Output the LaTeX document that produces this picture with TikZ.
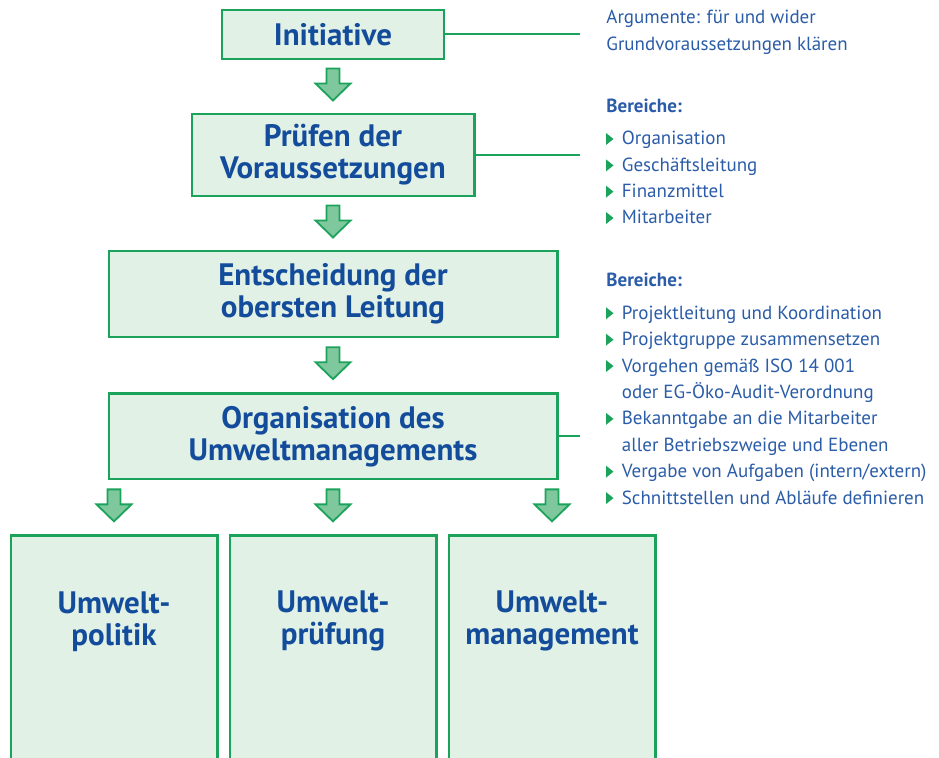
\documentclass[tikz,border=0pt]{standalone}
\usepackage{fontspec}
\setmainfont{PT Sans}
\usetikzlibrary{positioning, calc}

\definecolor{boxgreen}{HTML}{1BA35B}
\definecolor{boxfill}{HTML}{E1F1E6}
\definecolor{arrowfill}{HTML}{7FC79D}
\definecolor{titleblue}{HTML}{144C9C}
\definecolor{sideblue}{HTML}{2A5CA8}

\newcommand\titlefont{\fontsize{15.5}{16}\selectfont\bfseries}
\newcommand\sidefont{\fontsize{9.5}{12}\selectfont}

\tikzset{
	box/.style={draw=boxgreen, fill=boxfill, line width=1.2pt, align=center,
		text=titleblue, font=\titlefont, inner sep=0pt},
	wide/.style={box, minimum width=224.3pt, minimum height=42.9pt},
	tall/.style={box, minimum width=103.3pt, minimum height=130pt},
	title/.style={align=center, text=titleblue, font=\titlefont, inner sep=0pt},
	side/.style={anchor=base west, inner sep=0pt, text=sideblue, font=\sidefont},
	link/.style={draw=boxgreen, line width=1pt},
	bullet/.style={fill=boxgreen},
	blockarrow/.pic={
		\draw[draw=boxgreen, fill=arrowfill, line width=0.9pt, line join=miter]
			(-6.5,-18) -- (6.5,-18) -- (6.5,-3) -- (17.5,-3) -- (0,14)
			-- (-17.5,-3) -- (-6.5,-3) -- cycle;
	}
}

\begin{document}
\begin{tikzpicture}[x=0.5pt, y=-0.5pt, node distance=26.5pt and 5pt]
	\path[use as bounding box, clip] (0,0) rectangle (939,758);
	% main column
	\node[box, minimum width=110.8pt, minimum height=24.3pt] (init) at (333,34.5) {Initiative};
	\node[box, minimum width=141.3pt, minimum height=40.8pt, below=of init, text depth=4pt] (pruef) {Prüfen der\\Voraussetzungen};
	\node[wide, below=of pruef] (entsch) {Entscheidung der\\obersten Leitung};
	\node[wide, below=27pt of entsch] (orga) {Organisation des\\Umweltmanagements};
	% bottom row
	\node[tall, below=27pt of orga] (pruefung) {};
	\node[tall, left=of pruefung] (politik) {};
	\node[tall, right=of pruefung] (mgmt) {};
	\foreach \n/\t in {politik/{Umwelt-\\politik}, pruefung/{Umwelt-\\prüfung}, mgmt/{Umwelt-\\management}}
		\node[title] (\n-text) at ($(\n.north)+(0,87)$) {\t};

	% block arrows
	\path ($(init.south)!0.5!(pruef.north)$) pic {blockarrow};
	\path ($(pruef.south)!0.5!(entsch.north)$) pic {blockarrow};
	\path ($(entsch.south)!0.5!(orga.north)$) pic {blockarrow};
	\foreach \n in {politik,pruefung,mgmt}
		\path ($(orga.south -| \n.north)!0.5!(\n.north)$) pic {blockarrow};

	% side notes
	\coordinate (rail) at (580,0);
	\foreach \y/\t [count=\i] in {24/{Argumente: für und wider}, 51/{Grundvoraussetzungen klären}}
		\node[side] (arg\i) at (606,\y) {\t};
	\node[side, font=\sidefont\bfseries] (headA) at (606,112.7) {Bereiche:};
	\foreach \y/\t [count=\i] in {145/Organisation, 171.4/Geschäftsleitung, 197.7/Finanzmittel, 224/Mitarbeiter}
		\node[side] (itemA\i) at (621.5,\y) {\t};
	\node[side, font=\sidefont\bfseries] (headB) at (606,286.7) {Bereiche:};
	\foreach \t [count=\i] in {Projektleitung und Koordination, Projektgruppe zusammensetzen,
		Vorgehen gemäß ISO 14 001, oder EG-Öko-Audit-Verordnung, Bekanntgabe an die Mitarbeiter,
		aller Betriebszweige und Ebenen, {Vergabe von Aufgaben (intern/extern)}, Schnittstellen und Abläufe definieren}
		\node[side] (itemB\i) at (621.5,{319.3+26.4*(\i-1)}) {\t};
	\foreach \n in {itemA1,itemA2,itemA3,itemA4,itemB1,itemB2,itemB3,itemB5,itemB7,itemB8}
		\fill[bullet] ($(\n.base west)+(-15.5,0)$) -- ++(7.5,-6) -- ++(-7.5,-6) -- cycle;

	% connectors to the notes
	\draw[link] (init.east) -- (init.east -| rail);
	\draw[link] (pruef.east) -- (pruef.east -| rail);
	\draw[link] (orga.east) -- (orga.east -| rail);
\end{tikzpicture}
\end{document}
